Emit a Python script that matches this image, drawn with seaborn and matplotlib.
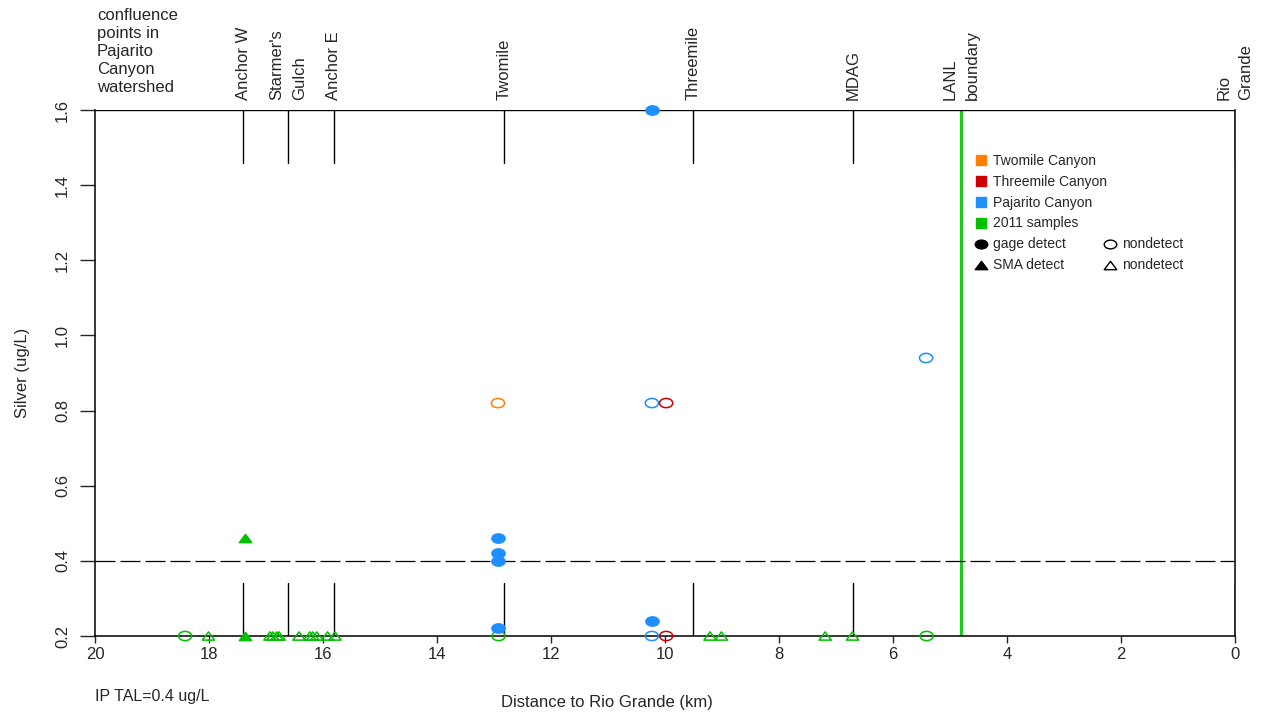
import numpy as np
import pandas as pd
import matplotlib
matplotlib.use("Agg")
import matplotlib.pyplot as plt
import seaborn as sns
from matplotlib.path import Path
from matplotlib.lines import Line2D

# confluence points along Pajarito Canyon (km to Rio Grande)
confl_names = ["Anchor W", "Starmer's\nGulch", "Anchor E", "Twomile", "Threemile",
               "MDAG", "LANL\nboundary", "Rio\nGrande"]
confl_km = [17.40, 16.61, 15.81, 12.82, 9.51, 6.70, 4.81, 0.0]
lanl_km = 4.81

# silver results (ug/L)
twomile_nd_km = [12.93]
twomile_nd_ag = [0.82]
threemile_nd_km = [9.98, 9.98]
threemile_nd_ag = [0.82, 0.20]
pajarito_det_km = [10.23, 12.93, 12.93, 12.93, 12.93, 10.23]
pajarito_det_ag = [1.60, 0.46, 0.42, 0.40, 0.22, 0.24]
pajarito_nd_km = [10.23, 5.42, 10.23]
pajarito_nd_ag = [0.82, 0.94, 0.20]
s2011_gage_nd_km = [18.42, 12.92, 5.41]
s2011_gage_nd_ag = [0.20, 0.20, 0.20]
s2011_sma_det_km = [17.37, 17.36]
s2011_sma_det_ag = [0.46, 0.20]
s2011_sma_nd_km = [18.01, 16.93, 16.88, 16.81, 16.77, 16.42, 16.23, 16.18, 16.11,
                   15.92, 15.79, 9.21, 9.01, 7.19, 6.71]
s2011_sma_nd_ag = [0.20] * 15

tal = 0.4
x_ticks = [20, 18, 16, 14, 12, 10, 8, 6, 4, 2, 0]
y_ticks = [0.2, 0.4, 0.6, 0.8, 1.0, 1.2, 1.4, 1.6]

colors = {"Twomile": "#FF8000", "Threemile": "#CC0000",
          "Pajarito": "#1E8FFF", "2011": "#00C000"}


def frame(km, ag, series, kind, detect):
    return pd.DataFrame({"km": km, "ag": ag, "series": series, "kind": kind, "detect": detect})


df = pd.concat([
    frame(s2011_gage_nd_km, s2011_gage_nd_ag, "2011", "gage", False),
    frame(s2011_sma_det_km, s2011_sma_det_ag, "2011", "SMA", True),
    frame(s2011_sma_nd_km, s2011_sma_nd_ag, "2011", "SMA", False),
    frame(pajarito_det_km, pajarito_det_ag, "Pajarito", "gage", True),
    frame(pajarito_nd_km, pajarito_nd_ag, "Pajarito", "gage", False),
    frame(twomile_nd_km, twomile_nd_ag, "Twomile", "gage", False),
    frame(threemile_nd_km, threemile_nd_ag, "Threemile", "gage", False),
], ignore_index=True)

# flattened markers like the R device output
circ = Path.unit_circle()
ellipse = Path(circ.vertices * [1.0, 0.7], circ.codes)
tri = Path([(-1, -0.67), (1, -0.67), (0, 0.67), (-1, -0.67)],
           [Path.MOVETO, Path.LINETO, Path.LINETO, Path.CLOSEPOLY])
markers = {"gage": ellipse, "SMA": tri}
sizes = {"gage": 90, "SMA": 78}

sns.set_style("white")
plt.rcParams["font.family"] = ["Liberation Sans", "DejaVu Sans"]

fig = plt.figure(figsize=(12.65, 7.15), dpi=100)
ax = fig.add_axes([95 / 1265, 1 - 636 / 715, 1140 / 1265, 526 / 715])
ax.set_xlim(20, 0)
ax.set_ylim(0.2, 1.6)

# confluence tick lines at top and bottom
for name, km in zip(confl_names, confl_km):
    if km != lanl_km:
        ax.plot([km, km], [0.2, 0.34], color="black", lw=1, zorder=2)
        ax.plot([km, km], [1.46, 1.6], color="black", lw=1, zorder=2)
    ax.text(km, 1.019, name, transform=ax.get_xaxis_transform(), rotation=90,
            ha="center", va="bottom", multialignment="left", fontsize=12,
            linespacing=1.6)

ax.axvline(lanl_km, color="#22C822", lw=2.2, zorder=2)
ax.axhline(1.6, color="black", lw=1, zorder=2)
ax.axhline(tal, color="black", lw=0.9, linestyle=(0, (16, 4)), zorder=2)

for (series, kind, detect), grp in df.groupby(["series", "kind", "detect"], sort=False):
    col = colors[series]
    sns.scatterplot(x=grp["km"], y=grp["ag"], ax=ax, marker=markers[kind], s=sizes[kind],
                    color=col, facecolor=col if detect else "none", edgecolor=col,
                    linewidth=1.1, clip_on=False, zorder=4, legend=False)

ax.spines["top"].set_visible(False)
for side in ["left", "bottom", "right"]:
    ax.spines[side].set_color("black")
    ax.spines[side].set_linewidth(1.1)

ax.set_xticks(x_ticks)
ax.set_xticklabels([str(t) for t in x_ticks])
ax.set_yticks(y_ticks)
ax.set_yticklabels([f"{t:.1f}" for t in y_ticks], rotation=90, va="center")
ax.tick_params(axis="x", direction="out", length=5, width=1, pad=3, labelsize=12,
               bottom=True)
ax.tick_params(axis="y", direction="out", length=11, width=1, pad=7, labelsize=12,
               left=True)
ax.set_xlabel("")
ax.set_ylabel("Silver (ug/L)", fontsize=12)
ax.yaxis.set_label_coords(-0.057, 0.5)

fig.text(607 / 1265, 1 - 702 / 715, "Distance to Rio Grande (km)", ha="center",
         va="center", fontsize=12)
fig.text(95 / 1265, 1 - 697 / 715, "IP TAL=0.4 ug/L", ha="left", va="center", fontsize=11.5)
fig.text(97 / 1265, 1 - 8 / 715, "confluence\npoints in\nPajarito\nCanyon\nwatershed",
         ha="left", va="top", fontsize=12, linespacing=1.25)

# legend: colour squares, then marker key in two columns
blank = Line2D([], [], linestyle="none", marker=None)
handles = [Line2D([], [], linestyle="none", marker="s", markersize=7,
                  color=colors[k]) for k in ["Twomile", "Threemile", "Pajarito", "2011"]]
labels = ["Twomile Canyon", "Threemile Canyon", "Pajarito Canyon", "2011 samples"]
handles += [Line2D([], [], linestyle="none", marker=ellipse, markersize=9, color="black"),
            Line2D([], [], linestyle="none", marker=tri, markersize=9, color="black")]
labels += ["gage detect", "SMA detect"]
handles += [blank] * 4
labels += [""] * 4
handles += [Line2D([], [], linestyle="none", marker=ellipse, markersize=9,
                   markerfacecolor="none", markeredgecolor="black"),
            Line2D([], [], linestyle="none", marker=tri, markersize=9,
                   markerfacecolor="none", markeredgecolor="black")]
labels += ["nondetect", "nondetect"]
ax.legend(handles, labels, ncol=2, loc="upper left", bbox_to_anchor=(0.772, 0.917),
          frameon=False, fontsize=10, handlelength=0.8, handletextpad=0.5,
          labelspacing=0.5, columnspacing=-0.2, borderpad=0, borderaxespad=0)

fig.savefig("out.png", dpi=100)
